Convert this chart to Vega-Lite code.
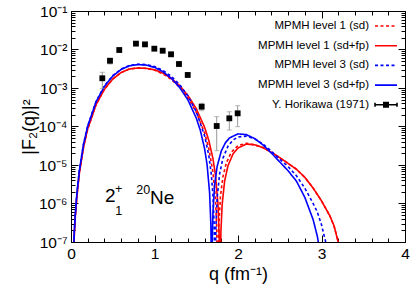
{
  "$schema": "https://vega.github.io/schema/vega-lite/v6.json",
  "width": 334,
  "height": 231,
  "autosize": "none",
  "padding": {"left": 71, "top": 11, "right": 10, "bottom": 49},
  "background": "white",
  "config": {
    "view": {"stroke": "black", "strokeWidth": 1},
    "font": "Liberation Sans"
  },
  "datasets": {
    "curves": [
      {"series": "MPMH level 1 (sd+fp)", "q": 0.03, "F": 5.18e-8},
      {"series": "MPMH level 1 (sd+fp)", "q": 0.04, "F": 1.63e-7},
      {"series": "MPMH level 1 (sd+fp)", "q": 0.05, "F": 3.95e-7},
      {"series": "MPMH level 1 (sd+fp)", "q": 0.07, "F": 1.5e-6},
      {"series": "MPMH level 1 (sd+fp)", "q": 0.1, "F": 6.07e-6},
      {"series": "MPMH level 1 (sd+fp)", "q": 0.15, "F": 2.92e-5},
      {"series": "MPMH level 1 (sd+fp)", "q": 0.2, "F": 8.63e-5},
      {"series": "MPMH level 1 (sd+fp)", "q": 0.3, "F": 3.68e-4},
      {"series": "MPMH level 1 (sd+fp)", "q": 0.4, "F": 9.29e-4},
      {"series": "MPMH level 1 (sd+fp)", "q": 0.5, "F": 1.71e-3},
      {"series": "MPMH level 1 (sd+fp)", "q": 0.6, "F": 2.52e-3},
      {"series": "MPMH level 1 (sd+fp)", "q": 0.7, "F": 3.13e-3},
      {"series": "MPMH level 1 (sd+fp)", "q": 0.8, "F": 3.3e-3},
      {"series": "MPMH level 1 (sd+fp)", "q": 0.9, "F": 3.24e-3},
      {"series": "MPMH level 1 (sd+fp)", "q": 1.0, "F": 2.98e-3},
      {"series": "MPMH level 1 (sd+fp)", "q": 1.1, "F": 2.45e-3},
      {"series": "MPMH level 1 (sd+fp)", "q": 1.2, "F": 1.79e-3},
      {"series": "MPMH level 1 (sd+fp)", "q": 1.3, "F": 1.16e-3},
      {"series": "MPMH level 1 (sd+fp)", "q": 1.4, "F": 6.41e-4},
      {"series": "MPMH level 1 (sd+fp)", "q": 1.5, "F": 2.91e-4},
      {"series": "MPMH level 1 (sd+fp)", "q": 1.6, "F": 9.55e-5},
      {"series": "MPMH level 1 (sd+fp)", "q": 1.65, "F": 4.38e-5},
      {"series": "MPMH level 1 (sd+fp)", "q": 1.7, "F": 1.47e-5},
      {"series": "MPMH level 1 (sd+fp)", "q": 1.73, "F": 5.48e-6},
      {"series": "MPMH level 1 (sd+fp)", "q": 1.76, "F": 9.77e-7},
      {"series": "MPMH level 1 (sd+fp)", "q": 1.775, "F": 1.33e-7},
      {"series": "MPMH level 1 (sd+fp)", "q": 1.784, "F": 3.2e-9},
      {"series": "MPMH level 1 (sd+fp)", "q": 1.795, "F": 1.75e-7},
      {"series": "MPMH level 1 (sd+fp)", "q": 1.81, "F": 9.33e-7},
      {"series": "MPMH level 1 (sd+fp)", "q": 1.84, "F": 3.86e-6},
      {"series": "MPMH level 1 (sd+fp)", "q": 1.88, "F": 9.59e-6},
      {"series": "MPMH level 1 (sd+fp)", "q": 1.94, "F": 1.93e-5},
      {"series": "MPMH level 1 (sd+fp)", "q": 2.0, "F": 2.77e-5},
      {"series": "MPMH level 1 (sd+fp)", "q": 2.1, "F": 3.49e-5},
      {"series": "MPMH level 1 (sd+fp)", "q": 2.2, "F": 3.35e-5},
      {"series": "MPMH level 1 (sd+fp)", "q": 2.3, "F": 2.82e-5},
      {"series": "MPMH level 1 (sd+fp)", "q": 2.4, "F": 2.14e-5},
      {"series": "MPMH level 1 (sd+fp)", "q": 2.5, "F": 1.55e-5},
      {"series": "MPMH level 1 (sd+fp)", "q": 2.6, "F": 1.1e-5},
      {"series": "MPMH level 1 (sd+fp)", "q": 2.7, "F": 7.76e-6},
      {"series": "MPMH level 1 (sd+fp)", "q": 2.8, "F": 4.79e-6},
      {"series": "MPMH level 1 (sd+fp)", "q": 2.9, "F": 2.51e-6},
      {"series": "MPMH level 1 (sd+fp)", "q": 3.0, "F": 1.17e-6},
      {"series": "MPMH level 1 (sd+fp)", "q": 3.1, "F": 4.79e-7},
      {"series": "MPMH level 1 (sd+fp)", "q": 3.15, "F": 2.63e-7},
      {"series": "MPMH level 1 (sd+fp)", "q": 3.2, "F": 1.0e-7},
      {"series": "MPMH level 1 (sd+fp)", "q": 3.23, "F": 3.2e-8},

      {"series": "MPMH level 1 (sd)", "q": 0.03, "F": 5.18e-8},
      {"series": "MPMH level 1 (sd)", "q": 0.04, "F": 1.63e-7},
      {"series": "MPMH level 1 (sd)", "q": 0.05, "F": 3.95e-7},
      {"series": "MPMH level 1 (sd)", "q": 0.07, "F": 1.5e-6},
      {"series": "MPMH level 1 (sd)", "q": 0.1, "F": 6.07e-6},
      {"series": "MPMH level 1 (sd)", "q": 0.15, "F": 2.92e-5},
      {"series": "MPMH level 1 (sd)", "q": 0.2, "F": 8.63e-5},
      {"series": "MPMH level 1 (sd)", "q": 0.3, "F": 3.68e-4},
      {"series": "MPMH level 1 (sd)", "q": 0.4, "F": 9.29e-4},
      {"series": "MPMH level 1 (sd)", "q": 0.5, "F": 1.71e-3},
      {"series": "MPMH level 1 (sd)", "q": 0.6, "F": 2.52e-3},
      {"series": "MPMH level 1 (sd)", "q": 0.7, "F": 3.13e-3},
      {"series": "MPMH level 1 (sd)", "q": 0.8, "F": 3.3e-3},
      {"series": "MPMH level 1 (sd)", "q": 0.9, "F": 3.23e-3},
      {"series": "MPMH level 1 (sd)", "q": 1.0, "F": 2.92e-3},
      {"series": "MPMH level 1 (sd)", "q": 1.1, "F": 2.34e-3},
      {"series": "MPMH level 1 (sd)", "q": 1.2, "F": 1.68e-3},
      {"series": "MPMH level 1 (sd)", "q": 1.3, "F": 1.05e-3},
      {"series": "MPMH level 1 (sd)", "q": 1.4, "F": 5.57e-4},
      {"series": "MPMH level 1 (sd)", "q": 1.5, "F": 2.36e-4},
      {"series": "MPMH level 1 (sd)", "q": 1.6, "F": 6.78e-5},
      {"series": "MPMH level 1 (sd)", "q": 1.65, "F": 2.7e-5},
      {"series": "MPMH level 1 (sd)", "q": 1.7, "F": 6.49e-6},
      {"series": "MPMH level 1 (sd)", "q": 1.73, "F": 1.31e-6},
      {"series": "MPMH level 1 (sd)", "q": 1.745, "F": 2.45e-7},
      {"series": "MPMH level 1 (sd)", "q": 1.757, "F": 3.2e-9},
      {"series": "MPMH level 1 (sd)", "q": 1.77, "F": 2.61e-7},
      {"series": "MPMH level 1 (sd)", "q": 1.79, "F": 1.55e-6},
      {"series": "MPMH level 1 (sd)", "q": 1.82, "F": 5.01e-6},
      {"series": "MPMH level 1 (sd)", "q": 1.86, "F": 1.13e-5},
      {"series": "MPMH level 1 (sd)", "q": 1.92, "F": 2.15e-5},
      {"series": "MPMH level 1 (sd)", "q": 2.0, "F": 3.2e-5},
      {"series": "MPMH level 1 (sd)", "q": 2.1, "F": 3.67e-5},
      {"series": "MPMH level 1 (sd)", "q": 2.2, "F": 3.33e-5},
      {"series": "MPMH level 1 (sd)", "q": 2.3, "F": 2.82e-5},
      {"series": "MPMH level 1 (sd)", "q": 2.4, "F": 2.14e-5},
      {"series": "MPMH level 1 (sd)", "q": 2.5, "F": 1.55e-5},
      {"series": "MPMH level 1 (sd)", "q": 2.6, "F": 1.1e-5},
      {"series": "MPMH level 1 (sd)", "q": 2.7, "F": 7.76e-6},
      {"series": "MPMH level 1 (sd)", "q": 2.8, "F": 4.79e-6},
      {"series": "MPMH level 1 (sd)", "q": 2.9, "F": 2.51e-6},
      {"series": "MPMH level 1 (sd)", "q": 3.0, "F": 1.17e-6},
      {"series": "MPMH level 1 (sd)", "q": 3.1, "F": 4.79e-7},
      {"series": "MPMH level 1 (sd)", "q": 3.15, "F": 2.63e-7},
      {"series": "MPMH level 1 (sd)", "q": 3.2, "F": 1.0e-7},
      {"series": "MPMH level 1 (sd)", "q": 3.23, "F": 3.2e-8},

      {"series": "MPMH level 3 (sd+fp)", "q": 0.03, "F": 6.1e-8},
      {"series": "MPMH level 3 (sd+fp)", "q": 0.04, "F": 1.92e-7},
      {"series": "MPMH level 3 (sd+fp)", "q": 0.05, "F": 4.66e-7},
      {"series": "MPMH level 3 (sd+fp)", "q": 0.07, "F": 1.77e-6},
      {"series": "MPMH level 3 (sd+fp)", "q": 0.1, "F": 7.16e-6},
      {"series": "MPMH level 3 (sd+fp)", "q": 0.15, "F": 3.44e-5},
      {"series": "MPMH level 3 (sd+fp)", "q": 0.2, "F": 1.02e-4},
      {"series": "MPMH level 3 (sd+fp)", "q": 0.3, "F": 4.37e-4},
      {"series": "MPMH level 3 (sd+fp)", "q": 0.4, "F": 1.1e-3},
      {"series": "MPMH level 3 (sd+fp)", "q": 0.5, "F": 2.04e-3},
      {"series": "MPMH level 3 (sd+fp)", "q": 0.6, "F": 3.03e-3},
      {"series": "MPMH level 3 (sd+fp)", "q": 0.7, "F": 3.77e-3},
      {"series": "MPMH level 3 (sd+fp)", "q": 0.8, "F": 4.06e-3},
      {"series": "MPMH level 3 (sd+fp)", "q": 0.9, "F": 3.92e-3},
      {"series": "MPMH level 3 (sd+fp)", "q": 1.0, "F": 3.44e-3},
      {"series": "MPMH level 3 (sd+fp)", "q": 1.1, "F": 2.66e-3},
      {"series": "MPMH level 3 (sd+fp)", "q": 1.2, "F": 1.8e-3},
      {"series": "MPMH level 3 (sd+fp)", "q": 1.3, "F": 1.04e-3},
      {"series": "MPMH level 3 (sd+fp)", "q": 1.4, "F": 4.91e-4},
      {"series": "MPMH level 3 (sd+fp)", "q": 1.5, "F": 1.66e-4},
      {"series": "MPMH level 3 (sd+fp)", "q": 1.55, "F": 7.76e-5},
      {"series": "MPMH level 3 (sd+fp)", "q": 1.6, "F": 2.65e-5},
      {"series": "MPMH level 3 (sd+fp)", "q": 1.63, "F": 1.01e-5},
      {"series": "MPMH level 3 (sd+fp)", "q": 1.66, "F": 1.88e-6},
      {"series": "MPMH level 3 (sd+fp)", "q": 1.675, "F": 2.84e-7},
      {"series": "MPMH level 3 (sd+fp)", "q": 1.682, "F": 2.4e-8},
      {"series": "MPMH level 3 (sd+fp)", "q": 1.69, "F": 7.0e-8},
      {"series": "MPMH level 3 (sd+fp)", "q": 1.7, "F": 5.94e-7},
      {"series": "MPMH level 3 (sd+fp)", "q": 1.72, "F": 2.99e-6},
      {"series": "MPMH level 3 (sd+fp)", "q": 1.75, "F": 9.1e-6},
      {"series": "MPMH level 3 (sd+fp)", "q": 1.8, "F": 2.32e-5},
      {"series": "MPMH level 3 (sd+fp)", "q": 1.85, "F": 3.81e-5},
      {"series": "MPMH level 3 (sd+fp)", "q": 1.9, "F": 5.08e-5},
      {"series": "MPMH level 3 (sd+fp)", "q": 2.0, "F": 6.43e-5},
      {"series": "MPMH level 3 (sd+fp)", "q": 2.1, "F": 6.14e-5},
      {"series": "MPMH level 3 (sd+fp)", "q": 2.2, "F": 4.85e-5},
      {"series": "MPMH level 3 (sd+fp)", "q": 2.3, "F": 3.31e-5},
      {"series": "MPMH level 3 (sd+fp)", "q": 2.4, "F": 2.04e-5},
      {"series": "MPMH level 3 (sd+fp)", "q": 2.5, "F": 1.2e-5},
      {"series": "MPMH level 3 (sd+fp)", "q": 2.6, "F": 7.08e-6},
      {"series": "MPMH level 3 (sd+fp)", "q": 2.7, "F": 3.8e-6},
      {"series": "MPMH level 3 (sd+fp)", "q": 2.8, "F": 1.45e-6},
      {"series": "MPMH level 3 (sd+fp)", "q": 2.9, "F": 3.8e-7},
      {"series": "MPMH level 3 (sd+fp)", "q": 2.95, "F": 1.41e-7},
      {"series": "MPMH level 3 (sd+fp)", "q": 2.97, "F": 7.9e-8},
      {"series": "MPMH level 3 (sd+fp)", "q": 3.0, "F": 2.5e-8},

      {"series": "MPMH level 3 (sd)", "q": 0.03, "F": 6.24e-8},
      {"series": "MPMH level 3 (sd)", "q": 0.04, "F": 1.96e-7},
      {"series": "MPMH level 3 (sd)", "q": 0.05, "F": 4.76e-7},
      {"series": "MPMH level 3 (sd)", "q": 0.07, "F": 1.81e-6},
      {"series": "MPMH level 3 (sd)", "q": 0.1, "F": 7.33e-6},
      {"series": "MPMH level 3 (sd)", "q": 0.15, "F": 3.52e-5},
      {"series": "MPMH level 3 (sd)", "q": 0.2, "F": 1.04e-4},
      {"series": "MPMH level 3 (sd)", "q": 0.3, "F": 4.47e-4},
      {"series": "MPMH level 3 (sd)", "q": 0.4, "F": 1.13e-3},
      {"series": "MPMH level 3 (sd)", "q": 0.5, "F": 2.09e-3},
      {"series": "MPMH level 3 (sd)", "q": 0.6, "F": 3.1e-3},
      {"series": "MPMH level 3 (sd)", "q": 0.7, "F": 3.85e-3},
      {"series": "MPMH level 3 (sd)", "q": 0.8, "F": 4.15e-3},
      {"series": "MPMH level 3 (sd)", "q": 0.9, "F": 4.06e-3},
      {"series": "MPMH level 3 (sd)", "q": 1.0, "F": 3.63e-3},
      {"series": "MPMH level 3 (sd)", "q": 1.1, "F": 2.88e-3},
      {"series": "MPMH level 3 (sd)", "q": 1.2, "F": 2.02e-3},
      {"series": "MPMH level 3 (sd)", "q": 1.3, "F": 1.23e-3},
      {"series": "MPMH level 3 (sd)", "q": 1.4, "F": 6.24e-4},
      {"series": "MPMH level 3 (sd)", "q": 1.5, "F": 2.44e-4},
      {"series": "MPMH level 3 (sd)", "q": 1.6, "F": 5.78e-5},
      {"series": "MPMH level 3 (sd)", "q": 1.65, "F": 1.79e-5},
      {"series": "MPMH level 3 (sd)", "q": 1.68, "F": 5.82e-6},
      {"series": "MPMH level 3 (sd)", "q": 1.7, "F": 1.68e-6},
      {"series": "MPMH level 3 (sd)", "q": 1.715, "F": 2.6e-7},
      {"series": "MPMH level 3 (sd)", "q": 1.725, "F": 3.2e-9},
      {"series": "MPMH level 3 (sd)", "q": 1.735, "F": 2.3e-7},
      {"series": "MPMH level 3 (sd)", "q": 1.75, "F": 1.38e-6},
      {"series": "MPMH level 3 (sd)", "q": 1.78, "F": 5.94e-6},
      {"series": "MPMH level 3 (sd)", "q": 1.82, "F": 1.51e-5},
      {"series": "MPMH level 3 (sd)", "q": 1.88, "F": 3.08e-5},
      {"series": "MPMH level 3 (sd)", "q": 1.94, "F": 4.44e-5},
      {"series": "MPMH level 3 (sd)", "q": 2.0, "F": 5.33e-5},
      {"series": "MPMH level 3 (sd)", "q": 2.1, "F": 5.62e-5},
      {"series": "MPMH level 3 (sd)", "q": 2.2, "F": 4.8e-5},
      {"series": "MPMH level 3 (sd)", "q": 2.3, "F": 3.48e-5},
      {"series": "MPMH level 3 (sd)", "q": 2.4, "F": 2.29e-5},
      {"series": "MPMH level 3 (sd)", "q": 2.5, "F": 1.41e-5},
      {"series": "MPMH level 3 (sd)", "q": 2.6, "F": 9.12e-6},
      {"series": "MPMH level 3 (sd)", "q": 2.7, "F": 5.25e-6},
      {"series": "MPMH level 3 (sd)", "q": 2.8, "F": 2.51e-6},
      {"series": "MPMH level 3 (sd)", "q": 2.9, "F": 1.0e-6},
      {"series": "MPMH level 3 (sd)", "q": 2.95, "F": 6.0e-7},
      {"series": "MPMH level 3 (sd)", "q": 3.0, "F": 2.82e-7},
      {"series": "MPMH level 3 (sd)", "q": 3.05, "F": 1.0e-7},
      {"series": "MPMH level 3 (sd)", "q": 3.08, "F": 4.0e-8}
    ],
    "exp": [
      {"series": "Y. Horikawa (1971)", "q": 0.375, "F": 1.79e-3, "lo": 9.8e-4, "hi": 2.56e-3},
      {"series": "Y. Horikawa (1971)", "q": 0.467, "F": 5.1e-3, "lo": 4.2e-3, "hi": 5.9e-3},
      {"series": "Y. Horikawa (1971)", "q": 0.578, "F": 9.7e-3, "lo": 9.0e-3, "hi": 1.04e-2},
      {"series": "Y. Horikawa (1971)", "q": 0.778, "F": 1.42e-2, "lo": 1.35e-2, "hi": 1.49e-2},
      {"series": "Y. Horikawa (1971)", "q": 0.886, "F": 1.36e-2, "lo": 1.3e-2, "hi": 1.42e-2},
      {"series": "Y. Horikawa (1971)", "q": 0.998, "F": 1.05e-2, "lo": 1.0e-2, "hi": 1.1e-2},
      {"series": "Y. Horikawa (1971)", "q": 1.098, "F": 9.3e-3, "lo": 8.9e-3, "hi": 9.7e-3},
      {"series": "Y. Horikawa (1971)", "q": 1.198, "F": 7.5e-3, "lo": 6.6e-3, "hi": 8.5e-3},
      {"series": "Y. Horikawa (1971)", "q": 1.293, "F": 4.2e-3, "lo": 4.0e-3, "hi": 4.4e-3},
      {"series": "Y. Horikawa (1971)", "q": 1.398, "F": 2.18e-3, "lo": 2.05e-3, "hi": 2.3e-3},
      {"series": "Y. Horikawa (1971)", "q": 1.565, "F": 3.27e-4, "lo": 2.57e-4, "hi": 4.0e-4},
      {"series": "Y. Horikawa (1971)", "q": 1.745, "F": 1.03e-4, "lo": 2.35e-5, "hi": 1.8e-4},
      {"series": "Y. Horikawa (1971)", "q": 1.896, "F": 1.63e-4, "lo": 8.1e-5, "hi": 2.42e-4},
      {"series": "Y. Horikawa (1971)", "q": 1.996, "F": 2.2e-4, "lo": 9.9e-5, "hi": 3.47e-4}
    ],
    "bigText": [
      {"q": 0.407, "F": 1.57e-6, "label": "2"},
      {"q": 0.946, "F": 1.35e-6, "label": "Ne"}
    ],
    "smallText": [
      {"q": 0.572, "F": 2.38e-6, "label": "+"},
      {"q": 0.572, "F": 6.5e-7, "label": "1"},
      {"q": 0.866, "F": 2.24e-6, "label": "20"}
    ]
  },
  "layer": [
    {
      "data": {"name": "curves"},
      "mark": {"type": "line", "clip": true},
      "encoding": {
        "x": {
          "field": "q", "type": "quantitative",
          "scale": {"domain": [0, 4], "nice": false, "zero": false},
          "axis": {
            "orient": "bottom",
            "values": [0, 0.2, 0.4, 0.6, 0.8, 1, 1.2, 1.4, 1.6, 1.8, 2, 2.2, 2.4, 2.6, 2.8, 3, 3.2, 3.4, 3.6, 3.8, 4],
            "labelExpr": "abs(datum.value - round(datum.value)) < 0.001 ? format(datum.value, 'd') : ''",
            "tickSize": {"condition": {"test": "abs(datum.value - round(datum.value)) < 0.001", "value": -7}, "value": -4},
            "tickColor": "black", "domainColor": "black", "grid": false,
            "labelFontSize": 15.5, "labelColor": "black", "labelPadding": 11,
            "labelFlush": false, "labelOverlap": false,
            "title": "q (fm⁻¹)", "titleFontSize": 18, "titleFontWeight": "normal", "titleColor": "black", "titlePadding": 1
          }
        },
        "y": {
          "field": "F", "type": "quantitative",
          "scale": {"type": "log", "domain": [1e-7, 0.1], "nice": false},
          "axis": {
            "orient": "left",
            "values": [1e-7, 2e-7, 3e-7, 4e-7, 5e-7, 6e-7, 7e-7, 8e-7, 9e-7, 1e-6, 2e-6, 3e-6, 4e-6, 5e-6, 6e-6, 7e-6, 8e-6, 9e-6, 1e-5, 2e-5, 3e-5, 4e-5, 5e-5, 6e-5, 7e-5, 8e-5, 9e-5, 1e-4, 2e-4, 3e-4, 4e-4, 5e-4, 6e-4, 7e-4, 8e-4, 9e-4, 1e-3, 2e-3, 3e-3, 4e-3, 5e-3, 6e-3, 7e-3, 8e-3, 9e-3, 1e-2, 2e-2, 3e-2, 4e-2, 5e-2, 6e-2, 7e-2, 8e-2, 9e-2, 0.1],
            "labelExpr": "abs(log(datum.value)/LN10 - round(log(datum.value)/LN10)) < 0.01 ? '10' + ['⁻⁷','⁻⁶','⁻⁵','⁻⁴','⁻³','⁻²','⁻¹'][round(log(datum.value)/LN10) + 7] : ''",
            "tickSize": {"condition": {"test": "abs(log(datum.value)/LN10 - round(log(datum.value)/LN10)) < 0.01", "value": -7}, "value": -4},
            "tickColor": "black", "domainColor": "black", "grid": false,
            "labelFontSize": 15.5, "labelColor": "black", "labelPadding": 11,
            "labelFlush": false, "labelOverlap": false,
            "title": "|F₂(q)|²", "titleFontSize": 18, "titleFontWeight": "normal", "titleColor": "black", "titlePadding": 0
          }
        },
        "color": {
          "field": "series", "type": "nominal",
          "scale": {
            "domain": ["MPMH level 1 (sd)", "MPMH level 1 (sd+fp)", "MPMH level 3 (sd)", "MPMH level 3 (sd+fp)", "Y. Horikawa (1971)"],
            "range": ["#ff0000", "#ff0000", "#0000ff", "#0000ff", "#000000"]
          },
          "legend": {
            "title": null, "orient": "none", "legendX": 303, "legendY": 3, "padding": 0,
            "symbolSize": 484, "symbolStrokeWidth": 1.6,
            "labelAlign": "right", "labelOffset": -29, "labelFontSize": 11.5, "labelColor": "black",
            "labelLimit": 300, "rowPadding": 1.7,
            "encode": {
              "symbols": {
                "update": {
                  "shape": {"signal": "datum.value === 'Y. Horikawa (1971)' ? 'M-1,-0.18L-1,0.18M-1,0L1,0M1,-0.18L1,0.18M-0.2,-0.2L0.2,-0.2L0.2,0.2L-0.2,0.2Z' : 'M-1,0L1,0'"},
                  "strokeDash": {"signal": "indexof(datum.value, '(sd)') >= 0 ? [3, 2.5] : [1, 0]"},
                  "fill": {"signal": "datum.value === 'Y. Horikawa (1971)' ? 'black' : 'transparent'"},
                  "stroke": {"signal": "datum.value === 'Y. Horikawa (1971)' ? 'black' : (indexof(datum.value, 'level 1') >= 0 ? '#ff0000' : '#0000ff')"},
                  "strokeWidth": {"value": 1.6},
                  "opacity": {"value": 1}
                }
              }
            }
          }
        },
        "strokeDash": {
          "field": "series", "type": "nominal",
          "scale": {
            "domain": ["MPMH level 1 (sd)", "MPMH level 1 (sd+fp)", "MPMH level 3 (sd)", "MPMH level 3 (sd+fp)"],
            "range": [[3, 2.5], [1, 0], [3, 2.5], [1, 0]]
          },
          "legend": null
        },
        "strokeWidth": {"value": 1.6}
      }
    },
    {
      "data": {"name": "exp"},
      "mark": {"type": "rule", "color": "#999999", "strokeWidth": 1},
      "encoding": {
        "x": {"field": "q", "type": "quantitative", "scale": {"domain": [0, 4], "nice": false, "zero": false}, "axis": null},
        "y": {"field": "lo", "type": "quantitative", "scale": {"type": "log", "domain": [1e-7, 0.1], "nice": false}, "axis": null},
        "y2": {"field": "hi"}
      }
    },
    {
      "data": {"name": "exp"},
      "mark": {"type": "tick", "orient": "horizontal", "color": "#999999", "thickness": 1, "size": 5},
      "encoding": {
        "x": {"field": "q", "type": "quantitative", "scale": {"domain": [0, 4], "nice": false, "zero": false}, "axis": null},
        "y": {"field": "lo", "type": "quantitative", "scale": {"type": "log", "domain": [1e-7, 0.1], "nice": false}, "axis": null}
      }
    },
    {
      "data": {"name": "exp"},
      "mark": {"type": "tick", "orient": "horizontal", "color": "#999999", "thickness": 1, "size": 5},
      "encoding": {
        "x": {"field": "q", "type": "quantitative", "scale": {"domain": [0, 4], "nice": false, "zero": false}, "axis": null},
        "y": {"field": "hi", "type": "quantitative", "scale": {"type": "log", "domain": [1e-7, 0.1], "nice": false}, "axis": null}
      }
    },
    {
      "data": {"name": "exp"},
      "mark": {"type": "square", "filled": true, "size": 34, "opacity": 1},
      "encoding": {
        "x": {
          "field": "q", "type": "quantitative",
          "scale": {"domain": [0, 4], "nice": false, "zero": false},
          "axis": {
            "orient": "top", "labels": false, "title": null, "domain": false, "grid": false,
            "values": [0, 0.2, 0.4, 0.6, 0.8, 1, 1.2, 1.4, 1.6, 1.8, 2, 2.2, 2.4, 2.6, 2.8, 3, 3.2, 3.4, 3.6, 3.8, 4],
            "tickSize": {"condition": {"test": "abs(datum.value - round(datum.value)) < 0.001", "value": -7}, "value": -4},
            "tickColor": "black"
          }
        },
        "y": {
          "field": "F", "type": "quantitative",
          "scale": {"type": "log", "domain": [1e-7, 0.1], "nice": false},
          "axis": {
            "orient": "right", "labels": false, "title": null, "domain": false, "grid": false,
            "values": [1e-7, 2e-7, 3e-7, 4e-7, 5e-7, 6e-7, 7e-7, 8e-7, 9e-7, 1e-6, 2e-6, 3e-6, 4e-6, 5e-6, 6e-6, 7e-6, 8e-6, 9e-6, 1e-5, 2e-5, 3e-5, 4e-5, 5e-5, 6e-5, 7e-5, 8e-5, 9e-5, 1e-4, 2e-4, 3e-4, 4e-4, 5e-4, 6e-4, 7e-4, 8e-4, 9e-4, 1e-3, 2e-3, 3e-3, 4e-3, 5e-3, 6e-3, 7e-3, 8e-3, 9e-3, 1e-2, 2e-2, 3e-2, 4e-2, 5e-2, 6e-2, 7e-2, 8e-2, 9e-2, 0.1],
            "tickSize": {"condition": {"test": "abs(log(datum.value)/LN10 - round(log(datum.value)/LN10)) < 0.01", "value": -7}, "value": -4},
            "tickColor": "black"
          }
        },
        "color": {"field": "series", "type": "nominal"}
      }
    },
    {
      "data": {"name": "bigText"},
      "mark": {"type": "text", "align": "left", "baseline": "middle", "fontSize": 19, "color": "black"},
      "encoding": {
        "x": {"field": "q", "type": "quantitative", "scale": {"domain": [0, 4], "nice": false, "zero": false}, "axis": null},
        "y": {"field": "F", "type": "quantitative", "scale": {"type": "log", "domain": [1e-7, 0.1], "nice": false}, "axis": null},
        "text": {"field": "label"}
      }
    },
    {
      "data": {"name": "smallText"},
      "mark": {"type": "text", "align": "center", "baseline": "middle", "fontSize": 12.5, "color": "black"},
      "encoding": {
        "x": {"field": "q", "type": "quantitative", "scale": {"domain": [0, 4], "nice": false, "zero": false}, "axis": null},
        "y": {"field": "F", "type": "quantitative", "scale": {"type": "log", "domain": [1e-7, 0.1], "nice": false}, "axis": null},
        "text": {"field": "label"}
      }
    }
  ],
  "resolve": {"axis": {"x": "independent", "y": "independent"}}
}
